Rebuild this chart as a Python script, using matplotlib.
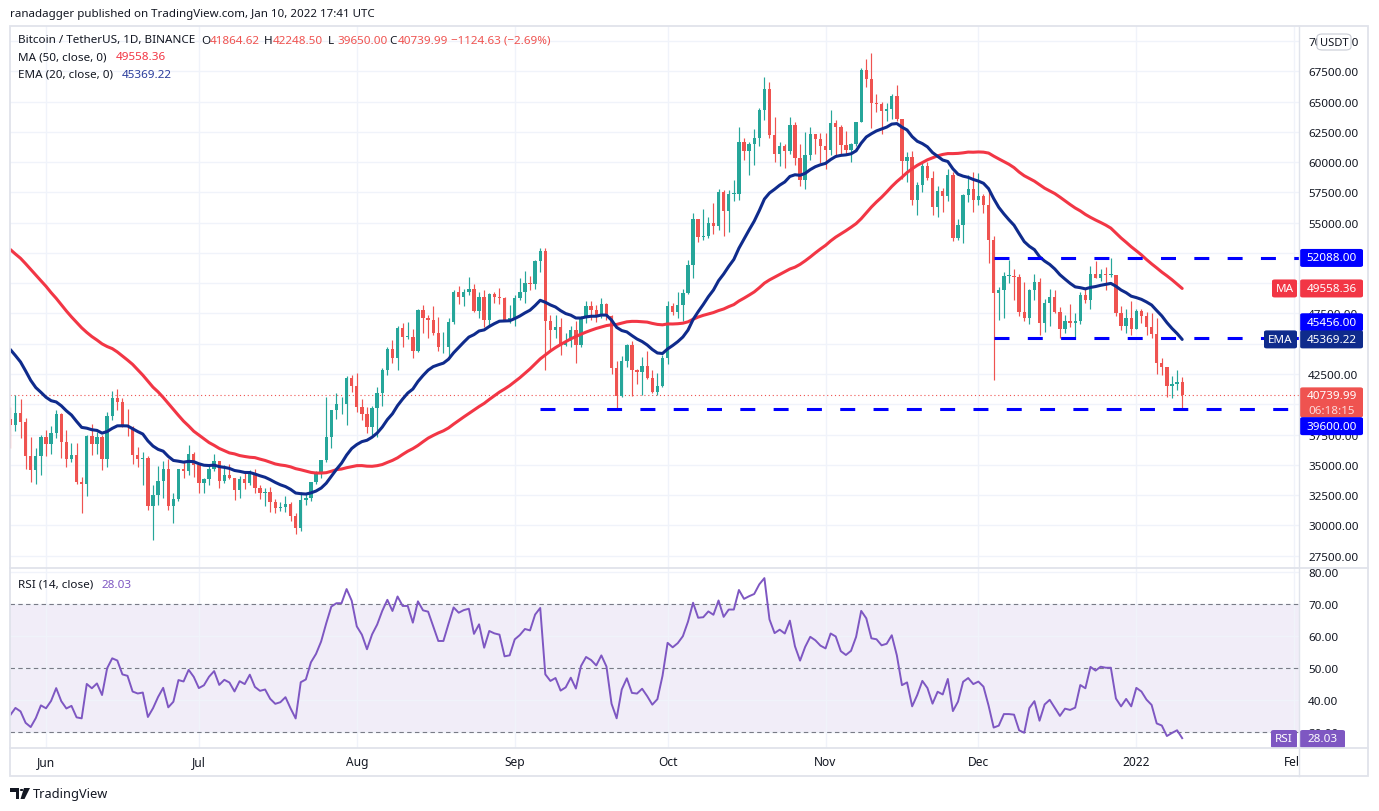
import numpy as np
import pandas as pd
import matplotlib
matplotlib.use("Agg")
import matplotlib.pyplot as plt
import matplotlib.dates as mdates
from matplotlib.patches import Rectangle, FancyBboxPatch, Polygon, Circle
from matplotlib.lines import Line2D
from matplotlib.transforms import Bbox, TransformedBbox

plt.rcParams['font.family'] = ['Noto Sans', 'DejaVu Sans']

# daily closes before the visible window (2021-04-01 .. 2021-05-24), thousands USDT
# only used so that MA50 / EMA20 / RSI14 already exist at the left edge
warmup_close = [
    58.7, 58.9, 57.1, 58.2, 59.1, 58.0, 56.0, 58.1, 58.1, 59.8, 59.9, 59.8, 63.6, 62.9, 63.2,
    61.5, 60.1, 56.3, 55.7, 56.5, 53.8, 51.7, 51.2, 50.1, 49.1, 54.0, 55.0, 54.9, 53.6, 57.7,
    57.8, 56.6, 57.2, 53.2, 57.5, 56.4, 57.4, 58.9, 58.3, 55.8, 56.7, 49.2, 49.7, 49.9, 46.8,
    46.4, 43.6, 43.0, 37.0, 40.6, 37.3, 37.5, 34.7, 38.8,
]

first_day = '2021-05-25'
# visible candles 2021-05-25 .. 2022-01-10, thousands USDT (open = previous close)
close = [
    38.3, 39.3, 38.5, 35.7, 34.6, 35.7, 37.3,
    36.7, 37.6, 39.2, 36.9, 35.5, 35.8, 33.6, 33.4, 37.4, 36.7, 37.3, 35.5, 39.0, 40.5, 40.2,
    38.3, 38.1, 35.8, 35.5, 35.6, 31.6, 32.5, 33.7, 34.7, 31.6, 32.2, 34.7, 34.5, 35.9, 35.0,
    33.5, 33.8, 34.7, 35.3, 33.7, 34.2, 33.9, 32.9, 33.8, 33.5, 34.3, 33.1, 32.7, 32.8, 31.9,
    31.4, 31.5, 31.8, 30.8, 29.8, 32.1, 32.3, 33.6, 34.3, 35.4, 37.3, 39.5, 40.0, 40.0, 42.2, 41.5,
    39.8, 39.2, 38.1, 39.7, 40.9, 42.8, 44.6, 43.8, 46.3, 45.6, 45.6, 44.4, 47.8, 47.1, 47.0,
    45.9, 44.7, 44.7, 46.8, 49.3, 48.9, 49.3, 49.5, 47.7, 48.9, 47.0, 49.1, 48.9, 48.8, 47.0, 47.1,
    48.8, 49.3, 50.0, 49.9, 51.8, 52.7, 46.9, 46.1, 46.4, 44.9, 45.2, 46.1, 44.9, 47.1, 48.1,
    47.8, 47.3, 48.3, 47.3, 43.0, 40.7, 43.6, 44.9, 42.8, 42.7, 43.2, 42.2, 41.0, 41.5, 43.8,
    48.1, 47.6, 48.2, 49.2, 51.5, 55.3, 53.8, 53.9, 55.0, 54.7, 57.5, 56.0, 57.4, 57.4, 61.7,
    60.9, 61.5, 62.0, 64.3, 66.0, 62.2, 60.7, 61.3, 60.9, 63.1, 60.3, 58.5, 60.6, 62.3, 61.9, 61.3,
    61.0, 63.2, 62.9, 61.4, 61.0, 61.5, 63.3, 67.6, 66.9, 64.9, 64.8, 64.2, 64.4, 65.5, 63.6,
    60.1, 60.4, 56.9, 58.1, 59.7, 58.7, 56.3, 57.6, 57.2, 58.9, 53.7, 54.8, 57.3, 57.8, 56.9,
    57.2, 56.5, 53.6, 49.2, 49.4, 50.6, 50.6, 50.5, 47.6, 47.1, 49.4, 50.1, 46.7, 48.4, 48.9,
    47.6, 46.2, 46.9, 46.7, 46.9, 49.0, 48.6, 50.8, 50.4, 50.8, 50.7, 50.7, 47.5, 46.5, 47.1, 46.2,
    47.7, 47.3, 46.4, 45.8, 43.4, 43.1, 41.5, 41.7, 41.86462, 40.73999,
]
high = [
    39.8, 40.8, 40.4, 38.9, 37.3, 36.4, 37.5,
    37.9, 38.2, 39.5, 39.3, 37.9, 36.8, 36.8, 34.0, 37.5, 38.4, 37.7, 37.5, 39.4, 41.1, 41.3,
    40.5, 39.6, 38.2, 36.5, 36.1, 35.7, 33.3, 34.9, 35.3, 35.5, 32.7, 34.7, 35.3, 36.6, 36.1,
    35.0, 33.9, 34.9, 35.9, 35.3, 35.0, 35.1, 33.9, 34.1, 34.3, 34.6, 34.7, 33.3, 33.1, 33.2,
    32.2, 31.9, 32.4, 31.9, 31.0, 32.8, 32.6, 33.6, 34.5, 35.4, 40.6, 39.5, 40.9, 40.6, 42.3, 42.4,
    42.6, 40.4, 39.8, 39.9, 41.4, 43.0, 44.7, 45.3, 46.5, 46.7, 46.8, 46.2, 47.9, 48.2, 47.4,
    48.1, 47.2, 46.0, 47.1, 49.4, 49.8, 49.5, 50.5, 49.9, 49.3, 49.4, 49.2, 49.3, 49.6, 48.9, 48.2,
    49.0, 50.4, 51.0, 50.6, 51.9, 52.9, 52.9, 47.4, 47.4, 47.1, 45.9, 46.5, 46.9, 47.3, 48.5,
    48.5, 48.2, 48.8, 48.4, 47.4, 43.6, 44.0, 45.0, 45.2, 42.9, 43.9, 44.4, 42.8, 42.6, 44.1,
    48.5, 48.4, 49.3, 49.5, 51.9, 55.8, 55.3, 56.1, 55.5, 56.6, 57.8, 57.7, 57.7, 58.5, 62.9,
    62.0, 61.7, 62.7, 64.5, 67.0, 66.6, 63.7, 61.7, 61.5, 63.7, 63.3, 61.5, 62.5, 62.9, 62.3, 62.4,
    62.4, 64.3, 63.5, 63.1, 62.6, 61.6, 63.3, 67.8, 68.5, 69.0, 65.6, 65.0, 64.9, 65.6, 66.4,
    63.6, 60.8, 60.9, 58.4, 59.9, 60.0, 59.3, 58.0, 57.9, 59.4, 59.2, 55.3, 57.4, 58.9, 59.2,
    59.1, 57.4, 57.6, 53.9, 49.7, 50.9, 51.9, 51.2, 50.8, 50.1, 49.5, 50.8, 50.4, 48.7, 49.5,
    49.4, 48.0, 47.4, 48.3, 47.5, 49.3, 49.6, 51.4, 51.8, 51.2, 51.3, 52.088, 50.7, 48.1, 47.9, 48.5,
    47.9, 47.9, 47.6, 47.5, 47.1, 43.8, 43.1, 42.3, 42.8, 42.2485,
]
low = [
    36.4, 37.8, 37.2, 34.7, 33.6, 33.4, 34.2,
    35.7, 35.9, 37.2, 35.6, 34.8, 35.2, 33.4, 31.0, 32.4, 35.8, 35.9, 34.6, 34.8, 38.7, 39.5,
    38.1, 37.4, 35.1, 34.8, 33.3, 31.3, 28.8, 31.7, 32.3, 31.3, 30.2, 32.0, 33.9, 34.2, 34.0,
    32.7, 32.7, 33.3, 34.5, 33.1, 33.5, 33.8, 32.1, 32.3, 33.0, 33.3, 32.7, 32.2, 31.6, 31.1,
    31.0, 31.2, 31.1, 30.4, 29.3, 29.5, 31.7, 32.0, 33.4, 33.9, 35.2, 36.4, 38.8, 39.2, 38.3, 41.0,
    39.4, 38.7, 37.6, 37.5, 37.3, 39.9, 42.4, 43.4, 42.8, 44.7, 45.4, 43.8, 44.3, 45.9, 45.5,
    45.7, 44.4, 44.2, 43.9, 46.6, 48.3, 48.1, 49.0, 47.6, 47.1, 46.4, 46.4, 48.4, 48.3, 46.9, 46.7,
    46.5, 48.6, 48.4, 49.4, 49.5, 50.9, 42.8, 44.4, 45.5, 44.1, 44.8, 44.7, 43.4, 44.7, 46.7,
    47.0, 46.8, 47.1, 47.0, 42.5, 39.6, 40.6, 43.1, 40.7, 41.7, 40.8, 42.1, 40.9, 40.8, 41.4,
    43.3, 47.4, 47.1, 46.9, 49.1, 50.4, 53.4, 53.6, 53.7, 54.1, 54.4, 53.9, 54.2, 56.8, 56.9,
    60.2, 58.9, 59.8, 61.3, 63.5, 62.0, 60.0, 59.7, 59.5, 60.7, 59.8, 58.0, 57.8, 60.2, 60.7, 59.9,
    59.4, 60.6, 60.4, 60.7, 60.7, 60.0, 61.3, 63.3, 66.2, 62.8, 64.1, 62.3, 63.4, 63.6, 63.4,
    58.6, 58.4, 56.5, 55.6, 57.5, 58.5, 55.6, 55.5, 55.9, 56.8, 53.5, 53.6, 53.3, 56.7, 55.9,
    56.5, 55.8, 51.7, 42.0, 47.0, 47.1, 50.0, 48.6, 47.3, 46.9, 46.6, 48.6, 45.7, 46.0, 46.5,
    47.5, 45.5, 45.9, 46.4, 45.6, 46.6, 48.4, 47.9, 50.4, 50.2, 49.4, 50.5, 47.3, 46.1, 45.9, 45.7,
    46.2, 46.7, 45.7, 45.5, 42.5, 42.4, 40.6, 40.5, 41.2, 39.65,
]

# horizontal levels drawn by the author
levels = [52088.00, 45456.00, 39600.00]
level_start = ['2021-12-04', '2021-12-04', '2021-09-06']

month_ticks = ['2021-06-01', '2021-07-01', '2021-08-01', '2021-09-01', '2021-10-01',
               '2021-11-01', '2021-12-01', '2022-01-01', '2022-02-01']
month_labels = ['Jun', 'Jul', 'Aug', 'Sep', 'Oct', 'Nov', 'Dec', '2022', 'Feb']

ohlc_text = [('O', '41864.62'), ('H', '42248.50'), ('L', '39650.00'), ('C', '40739.99')]
change_text = '\u22121124.63 (\u22122.69%)'
ma_text = '49558.36'
ema_text = '45369.22'
rsi_text = '28.03'
last_price = 40739.99
countdown = '06:18:15'

UP = '#26a69a'
DOWN = '#ef5350'
MA_COL = '#f23645'
EMA_COL = '#0f2b8c'
LEVEL_COL = '#0000ff'
RSI_COL = '#7e57c2'
TXT = '#131722'
GRID = '#f0f3fa'
FRAME = '#e0e3eb'
FS = 8.4

W, H = 1379, 812


def fx(px):
    return px / W


def fy(py):
    return 1 - py / H


# ---- data prep ----
all_close = np.array(warmup_close + close) * 1000
n_warm = len(warmup_close)
c = np.array(close) * 1000
o = all_close[n_warm - 1:-1]
hi = np.array(high) * 1000
lo = np.array(low) * 1000
dates = pd.date_range(first_day, periods=len(c))
x = mdates.date2num(dates)

s = pd.Series(all_close)
ma50 = s.rolling(50).mean().to_numpy()[n_warm:]
ema20 = s.ewm(span=20, adjust=False).mean().to_numpy()[n_warm:]
d = s.diff()
gain = d.clip(lower=0).ewm(alpha=1 / 14, adjust=False).mean()
loss = (-d.clip(upper=0)).ewm(alpha=1 / 14, adjust=False).mean()
rsi = (100 - 100 / (1 + gain / loss)).to_numpy()[n_warm:]

# ---- figure ----
fig = plt.figure(figsize=(W / 100, H / 100), dpi=100)
fig.patch.set_facecolor('white')

ax = fig.add_axes([fx(10), fy(569), fx(1299) - fx(10), fy(27) - fy(569)])
rax = fig.add_axes([fx(10), fy(749), fx(1299) - fx(10), fy(569) - fy(749)], sharex=ax)

jun1 = mdates.date2num(pd.Timestamp('2021-06-01'))
ppd = 5.095  # pixels per day
ax.set_xlim(jun1 - 36 / ppd, jun1 + (1299 - 46) / ppd)
ax.set_ylim(26484, 71241)

up = c >= o
cols = np.where(up, UP, DOWN)
ax.vlines(x, np.minimum(lo, np.minimum(o, c)), np.maximum(hi, np.maximum(o, c)),
          colors=cols, lw=0.85, zorder=2)
body = np.maximum(np.abs(c - o), 60)
ax.bar(x, body, bottom=np.minimum(o, c), width=0.66, color=cols, lw=0, zorder=3)

ax.plot(x, ma50, color=MA_COL, lw=2.2, zorder=4, solid_capstyle='round')
ax.plot(x, ema20, color=EMA_COL, lw=2.2, zorder=4, solid_capstyle='round')

xr = ax.get_xlim()[1]
for v, st in zip(levels, level_start):
    x0 = mdates.date2num(pd.Timestamp(st))
    ax.plot([x0, xr], [v, v], color=LEVEL_COL, lw=2.2, ls=(0, (4.9, 6.0)), zorder=5)

ax.axhline(last_price, color=DOWN, lw=0.8, ls=(0, (1, 2.5)), zorder=1)

price_ticks = np.arange(27500, 70001, 2500)
# 45000 and 40000 sit fully under the EMA / last-price tags
price_labels = ['' if t in (45000, 40000) else '%.2f' % t for t in price_ticks]
ax.set_yticks(price_ticks)
ax.set_yticklabels(price_labels)
for a in (ax, rax):
    a.yaxis.tick_right()
    a.tick_params(axis='y', length=0, pad=6.5, labelsize=FS, labelcolor=TXT)
    a.tick_params(axis='x', length=0)
    for sp in a.spines.values():
        sp.set_visible(False)
    a.grid(True, color=GRID, lw=1.0, zorder=0)
    a.set_axisbelow(True)

ax.set_xticks(mdates.date2num(pd.to_datetime(month_ticks)))
plt.setp(ax.get_xticklabels(), visible=False)

# ---- RSI pane ----
rax.set_ylim(25.1, 81.35)
rax.axhspan(30, 70, color=RSI_COL, alpha=0.1, lw=0, zorder=0.5)
for lvl in (30, 50, 70):
    rax.axhline(lvl, color='#787b86', lw=0.8, ls=(0, (4, 3)), zorder=1)
rax.plot(x, rsi, color=RSI_COL, lw=1.4, zorder=3)
rax.set_yticks([30, 40, 50, 60, 70, 80])
rax.set_yticklabels(['%.2f' % t for t in [30, 40, 50, 60, 70, 80]])
rax.set_xticklabels(month_labels)
rax.tick_params(axis='x', pad=5, labelsize=8.6, labelcolor=TXT)
clip = TransformedBbox(Bbox.from_extents(fx(10), 0, fx(1298), 1), fig.transFigure)
for lab in rax.get_xticklabels():
    lab.set_clip_box(clip)
    lab.set_clip_on(True)


# ---- frame ----
def px_line(x0, y0, x1, y1, **kw):
    fig.add_artist(Line2D([fx(x0), fx(x1)], [fy(y0), fy(y1)], transform=fig.transFigure, **kw))


fig.add_artist(Rectangle((fx(10), fy(777)), fx(1368) - fx(10), fy(27) - fy(777),
                         transform=fig.transFigure, fill=False, edgecolor=FRAME, lw=1.3))
px_line(1299, 27, 1299, 777, color=FRAME, lw=1.0)
px_line(10, 569, 1368, 569, color=FRAME, lw=1.3)
px_line(10, 749, 1368, 749, color=FRAME, lw=1.3)


def price_px(a, v):
    return H - a.transData.transform((0, v))[1]


def tag(x0, x1, yc, face, text, tcolor='white', h=18, size=FS):
    fig.add_artist(FancyBboxPatch((fx(x0), fy(yc + h / 2)), fx(x1) - fx(x0), h / H,
                                  boxstyle='round,pad=0,rounding_size=0.002',
                                  transform=fig.transFigure, facecolor=face, edgecolor=face, lw=0))
    fig.text(fx((x0 + x1) / 2), fy(yc), text, color=tcolor, fontsize=size,
             ha='center', va='center')


# ---- right scale tags ----
tag(1300, 1363, price_px(ax, levels[0]), LEVEL_COL, '%.2f' % levels[0])
yma = price_px(ax, ma50[-1])
tag(1272, 1297, yma, MA_COL, 'MA')
tag(1300, 1363, yma, MA_COL, ma_text)
yema = price_px(ax, ema20[-1])
tag(1300, 1363, price_px(ax, levels[1]) - 16, LEVEL_COL, '%.2f' % levels[1])
tag(1264, 1297, yema, EMA_COL, 'EMA')
tag(1300, 1363, yema, EMA_COL, ema_text)
ylast = price_px(ax, last_price)
fig.add_artist(FancyBboxPatch((fx(1300), fy(ylast + 22)), fx(1363) - fx(1300), 30 / H,
                              boxstyle='round,pad=0,rounding_size=0.002',
                              transform=fig.transFigure, facecolor=DOWN, edgecolor=DOWN, lw=0))
fig.text(fx(1331.5), fy(ylast), '%.2f' % last_price, color='white', fontsize=FS,
         ha='center', va='center')
fig.text(fx(1331.5), fy(ylast + 15), countdown, color='#fcd9d9', fontsize=FS,
         ha='center', va='center')
tag(1300, 1363, price_px(ax, levels[2]) + 17, LEVEL_COL, '%.2f' % levels[2])

tag(1271, 1297, 740, RSI_COL, 'RSI')
tag(1300, 1345, 740, RSI_COL, rsi_text)

# USDT unit badge
fig.add_artist(FancyBboxPatch((fx(1317), fy(51)), fx(1351) - fx(1317), 16 / H,
                              boxstyle='round,pad=0,rounding_size=0.004',
                              transform=fig.transFigure, facecolor='white',
                              edgecolor='#c9ccd4', lw=0.8))
fig.text(fx(1334), fy(43), 'USDT', color=TXT, fontsize=8.0, ha='center', va='center')

# ---- legend texts ----
fig.text(fx(10), fy(14), 'ranadagger published on TradingView.com, Jan 10, 2022 17:41 UTC',
         color=TXT, fontsize=8.3, ha='left', va='center')
fig.text(fx(18), fy(41), 'Bitcoin / TetherUS, 1D, BINANCE', color=TXT, fontsize=FS,
         ha='left', va='center')
ohlc_x = [201, 264, 328, 389]
for (k, v), px in zip(ohlc_text, ohlc_x):
    fig.text(fx(px), fy(41), k, color=TXT, fontsize=FS, ha='left', va='center')
    fig.text(fx(px + 9), fy(41), v, color=DOWN, fontsize=FS, ha='left', va='center')
fig.text(fx(451), fy(41), change_text, color=DOWN, fontsize=FS, ha='left', va='center')
fig.text(fx(18), fy(58), 'MA (50, close, 0)', color=TXT, fontsize=FS, ha='left', va='center')
fig.text(fx(116), fy(58), ma_text, color=MA_COL, fontsize=FS, ha='left', va='center')
fig.text(fx(18), fy(75), 'EMA (20, close, 0)', color=TXT, fontsize=FS, ha='left', va='center')
fig.text(fx(122), fy(75), ema_text, color='#2a3d9c', fontsize=FS, ha='left', va='center')
fig.text(fx(18), fy(585), 'RSI (14, close)', color=TXT, fontsize=FS, ha='left', va='center')
fig.text(fx(102), fy(585), rsi_text, color=RSI_COL, fontsize=FS, ha='left', va='center')

# TradingView footer: small logo drawn from shapes + wordmark
logo = [
    Polygon([(fx(10), fy(789)), (fx(19), fy(789)), (fx(19), fy(800)), (fx(15.5), fy(800)),
             (fx(15.5), fy(792.5)), (fx(10), fy(792.5))], closed=True),
    Circle((fx(21.6), fy(791)), 1.8 / W),
    Polygon([(fx(24), fy(789)), (fx(30), fy(789)), (fx(24.5), fy(800)), (fx(20.5), fy(800))],
            closed=True),
]
for p in logo:
    p.set_transform(fig.transFigure)
    p.set_facecolor(TXT)
    p.set_edgecolor('none')
    fig.add_artist(p)
fig.text(fx(33), fy(795), 'TradingView', color=TXT, fontsize=9.2, ha='left', va='center')

fig.savefig('out.png', dpi=100, facecolor='white')
